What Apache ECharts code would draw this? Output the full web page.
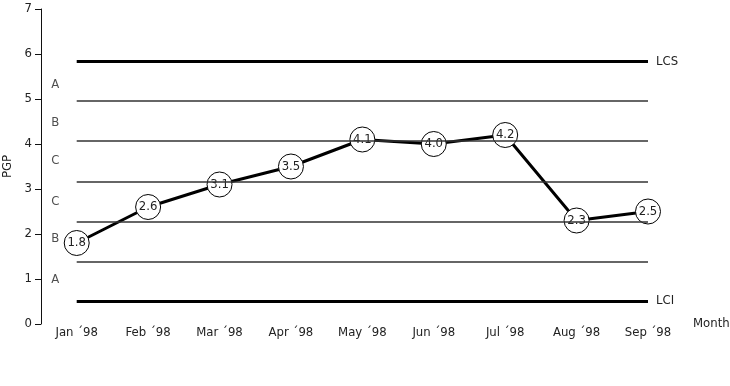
<!DOCTYPE html>
<html>
<head>
<meta charset="utf-8">
<script src="https://cdn.jsdelivr.net/npm/echarts@6/dist/echarts.min.js"></script>
<style>html,body{margin:0;padding:0;background:#fff}#c{width:730px;height:386px}</style>
</head>
<body>
<div id="c"></div>
<script>
const months = ['Jan ´98','Feb ´98','Mar ´98','Apr ´98','May ´98','Jun ´98','Jul ´98','Aug ´98','Sep ´98'];
const pgp = [1.8, 2.6, 3.1, 3.5, 4.1, 4.0, 4.2, 2.3, 2.5];
const limitNames = ['LCS', 'LCI'];
const limitValues = [5.84, 0.51];
const zoneLines = [1.38, 2.27, 3.17, 4.07, 4.96];
const zoneLetters = ['A', 'B', 'C', 'C', 'B', 'A'];
const zoneLetterY = [0.98, 1.89, 2.73, 3.64, 4.47, 5.31];
const yTicks = [0, 1, 2, 3, 4, 5, 6, 7];

const FONT = '"Liberation Sans Narrow", "DejaVu Sans Condensed", "Liberation Sans", sans-serif';
const TXT = '#222';
const lastIdx = months.length - 1;

const chart = echarts.init(document.getElementById('c'), null, {renderer: 'canvas'});

const markData = [];
zoneLines.forEach(v => {
  markData.push([
    {coord: [0, v], lineStyle: {width: 1.5, color: '#333', type: 'solid'}, label: {show: false}},
    {coord: [lastIdx, v]}
  ]);
});
limitValues.forEach((v, i) => {
  markData.push([
    {coord: [0, v], name: limitNames[i], lineStyle: {width: 3, color: '#000', type: 'solid'},
     label: {show: true, position: 'end', formatter: limitNames[i], distance: 8,
             color: TXT, fontFamily: FONT, fontSize: 13}},
    {coord: [lastIdx, v]}
  ]);
});

chart.setOption({
  animation: false,
  grid: {left: 41, right: 82, top: 9, bottom: 62, containLabel: false, outerBoundsMode: 'none'},
  xAxis: {
    type: 'value',
    min: -0.5, max: lastIdx, interval: 0.5,
    name: 'Month', nameLocation: 'end', nameGap: 45,
    nameTextStyle: {color: TXT, fontFamily: FONT, fontSize: 13, align: 'left', verticalAlign: 'middle'},
    axisLine: {show: false, onZero: false}, axisTick: {show: false}, splitLine: {show: false},
    axisLabel: {
      color: TXT, fontFamily: FONT, fontSize: 13, margin: 2,
      formatter: v => Number.isInteger(v) && v >= 0 ? months[v] : ''
    }
  },
  yAxis: {
    type: 'value', min: yTicks[0], max: yTicks[yTicks.length - 1], interval: 1,
    name: 'PGP', nameLocation: 'middle', nameGap: 22, nameRotate: 90,
    nameTextStyle: {color: TXT, fontFamily: FONT, fontSize: 13},
    axisLine: {show: true, onZero: false, lineStyle: {color: '#111', width: 1}},
    axisTick: {show: true, length: 6, lineStyle: {color: '#111'}},
    splitLine: {show: false},
    axisLabel: {color: TXT, fontFamily: FONT, fontSize: 13, margin: 9}
  },
  series: [
    {
      type: 'scatter',
      data: zoneLetterY.map(y => [-0.3, y]),
      symbolSize: 0,
      silent: true,
      label: {
        show: true, position: 'inside',
        formatter: p => zoneLetters[p.dataIndex],
        color: TXT, fontFamily: FONT, fontSize: 13
      },
      z: 1
    },
    {
      type: 'line',
      data: pgp.map((v, i) => [i, v]),
      lineStyle: {color: '#000', width: 3},
      symbol: 'circle', symbolSize: 25,
      itemStyle: {color: '#fff', borderColor: '#000', borderWidth: 1},
      label: {
        show: true, position: 'inside',
        formatter: p => p.value[1].toFixed(1),
        color: TXT, fontFamily: FONT, fontSize: 13
      },
      markLine: {
        silent: true, symbol: 'none', animation: false,
        data: markData
      },
      z: 3
    }
  ]
});
</script>
</body>
</html>
